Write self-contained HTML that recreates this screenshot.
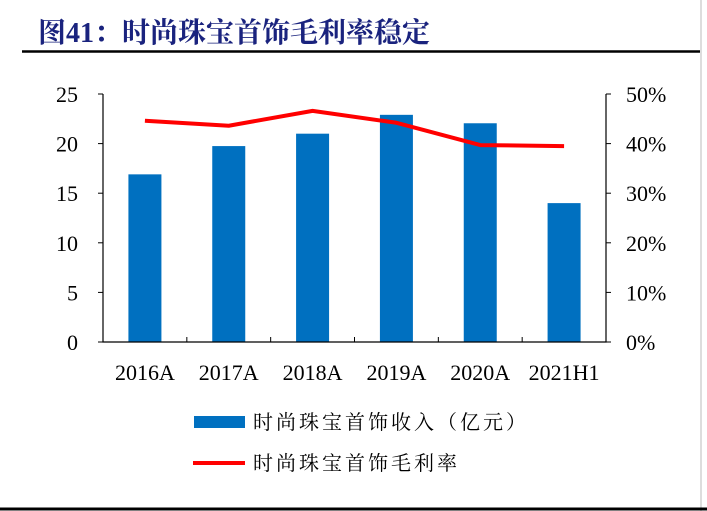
<!DOCTYPE html>
<html><head><meta charset="utf-8"><style>
body{margin:0;background:#fff;}
svg{display:block;}
text{font-family:"Liberation Serif","Noto Serif CJK SC",serif;fill:#000;}
</style></head><body>
<svg width="707" height="511" viewBox="0 0 707 511">
<text x="38" y="42" font-size="28" font-weight="bold" style="fill:#1a237e">图41：时尚珠宝首饰毛利率稳定</text>
<line x1="22" y1="51.5" x2="700" y2="51.5" stroke="#000" stroke-width="2.5"/>
<line x1="701" y1="0" x2="701" y2="511" stroke="#ddd" stroke-width="2"/>
<line x1="0" y1="509" x2="707" y2="509" stroke="#000" stroke-width="3"/>
<g id="plot"></g>
<rect x="194" y="416" width="51" height="12" fill="#0070c0"/>
<text x="253" y="429" font-size="20" letter-spacing="3">时尚珠宝首饰收入（亿元）</text>
<line x1="193" y1="463" x2="245" y2="463" stroke="#ff0000" stroke-width="4"/>
<text x="253" y="470" font-size="20" letter-spacing="3">时尚珠宝首饰毛利率</text>
</svg>
<script>
const categories=["2016A","2017A","2018A","2019A","2020A","2021H1"];
const revenue=[16.9,19.75,21.0,22.9,22.05,14.0];
const margin=[44.6,43.6,46.6,44.2,39.7,39.5];
const leftTicks=[0,5,10,15,20,25];
const rightTicks=[0,10,20,30,40,50];
const NS="http://www.w3.org/2000/svg";
const g=document.getElementById('plot');
const X0=103,X1=606,Y0=342,Y1=94;
const band=(X1-X0)/categories.length;
const xc=i=>X0+band*(i+0.5);
const yL=v=>Y0-(v/25)*(Y0-Y1);
const yR=v=>Y0-(v/50)*(Y0-Y1);
function mk(tag,attrs){const e=document.createElementNS(NS,tag);for(const k in attrs)e.setAttribute(k,attrs[k]);g.appendChild(e);return e;}
revenue.forEach((v,i)=>{
 const r=mk('rect',{x:xc(i)-16.5,y:yL(v),width:33,height:Y0-yL(v),fill:'#0070c0'});
 
 
});
let ax=mk('path',{d:`M${X0},${Y1}V${Y0}H${X1}V${Y1}`,fill:'none',stroke:'#000','stroke-width':1.2});


leftTicks.forEach(t=>{
 mk('line',{x1:X0-5,x2:X0,y1:yL(t),y2:yL(t),stroke:'#000'});
 const tx=mk('text',{x:78,y:yL(t)+8,'font-size':22,'text-anchor':'end'});tx.textContent=t;
 
 
});
rightTicks.forEach(t=>{
 mk('line',{x1:X1,x2:X1+5,y1:yR(t),y2:yR(t),stroke:'#000'});
 const tx=mk('text',{x:626,y:yR(t)+8,'font-size':22});tx.textContent=t+'%';
 
 
});
for(let i=1;i<categories.length;i++){const x=X0+band*i;mk('line',{x1:x,x2:x,y1:Y0,y2:Y0-5,stroke:'#000'});}
categories.forEach((c,i)=>{
 const tx=mk('text',{x:xc(i),y:380,'font-size':22,'text-anchor':'middle'});tx.textContent=c;
 
 
});
const ln=mk('polyline',{points:margin.map((v,i)=>xc(i)+','+yR(v)).join(' '),fill:'none',stroke:'#ff0000','stroke-width':4,'stroke-linejoin':'round'});


</script>
</body></html>
